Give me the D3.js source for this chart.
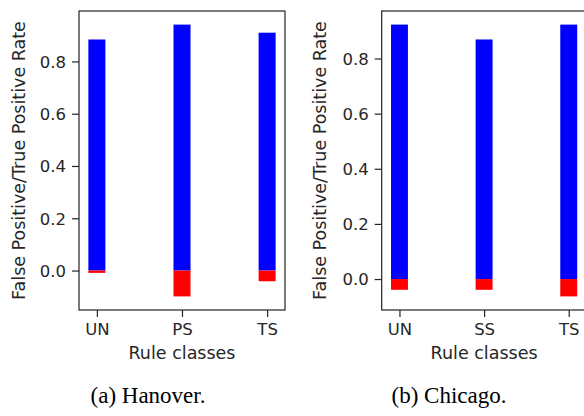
<!DOCTYPE html>
<html>
<head>
<meta charset="utf-8">
<script src="https://cdn.jsdelivr.net/npm/d3@7"></script>
<style>
  html, body { margin: 0; padding: 0; background: #fff; }
  svg { display: block; }
</style>
</head>
<body>
<svg id="chart" width="584" height="416"></svg>
<script>
// ---- Data ----
const hanoverCategories = ["UN", "PS", "TS"];
const hanoverTPR = [0.884, 0.941, 0.910];
const hanoverFPR = [-0.009, -0.099, -0.041];

const chicagoCategories = ["UN", "SS", "TS"];
const chicagoTPR = [0.923, 0.869, 0.923];
const chicagoFPR = [-0.039, -0.039, -0.063];

const yTicks = [0.0, 0.2, 0.4, 0.6, 0.8];
const yLabel = "False Positive/True Positive Rate";
const xLabel = "Rule classes";
const captions = ["(a) Hanover.", "(b) Chicago."];

// ---- Drawing ----
const svg = d3.select("#chart");
const textColor = "#262626";
const axisFont = "DejaVu Sans, sans-serif";

function panel(opts) {
  const { left, right, top, bottom, cats, tpr, fpr, ylabelX, caption, captionX } = opts;
  const barW = 0.2;
  const n = cats.length;
  // matplotlib-style 5% margins
  const xMin = -barW / 2, xMax = (n - 1) + barW / 2;
  const xm = (xMax - xMin) * 0.05;
  const x = d3.scaleLinear().domain([xMin - xm, xMax + xm]).range([left, right]);
  const yMinD = d3.min(fpr), yMaxD = d3.max(tpr);
  const ym = (yMaxD - yMinD) * 0.05;
  const y = d3.scaleLinear().domain([yMinD - ym, yMaxD + ym]).range([bottom, top]);

  const g = svg.append("g");
  const clipId = "clip" + Math.round(left);
  svg.append("clipPath").attr("id", clipId)
    .append("rect").attr("x", left).attr("y", top).attr("width", right - left).attr("height", bottom - top);

  const bars = g.append("g").attr("clip-path", `url(#${clipId})`);
  // positive (blue) bars
  bars.selectAll("rect.tp").data(tpr).join("rect")
    .attr("class", "tp")
    .attr("x", (d, i) => x(i - barW / 2))
    .attr("width", (d, i) => x(i + barW / 2) - x(i - barW / 2))
    .attr("y", d => y(d))
    .attr("height", d => y(0) - y(d))
    .attr("fill", "#0000ff");
  // negative (red) bars
  bars.selectAll("rect.fp").data(fpr).join("rect")
    .attr("class", "fp")
    .attr("x", (d, i) => x(i - barW / 2))
    .attr("width", (d, i) => x(i + barW / 2) - x(i - barW / 2))
    .attr("y", d => y(0))
    .attr("height", d => y(d) - y(0))
    .attr("fill", "#ff0000");

  // spines
  g.append("rect")
    .attr("x", left).attr("y", top)
    .attr("width", right - left).attr("height", bottom - top)
    .attr("fill", "none").attr("stroke", "#222").attr("stroke-width", 1.2);

  // y axis
  const yAxis = d3.axisLeft(y).tickValues(yTicks).tickFormat(d3.format(".1f"))
    .tickSize(7).tickPadding(6);
  const ya = g.append("g").attr("transform", `translate(${left},0)`).call(yAxis);
  ya.select(".domain").remove();
  ya.selectAll(".tick line").attr("stroke", "#222").attr("stroke-width", 1.2);
  ya.selectAll(".tick text").attr("fill", textColor)
    .style("font-family", axisFont).style("font-size", "16.5px").attr("dy", "0.36em");

  // x axis
  const xAxis = d3.axisBottom(x).tickValues(d3.range(n)).tickFormat(i => cats[i])
    .tickSize(7).tickPadding(6);
  const xa = g.append("g").attr("transform", `translate(0,${bottom})`).call(xAxis);
  xa.select(".domain").remove();
  xa.selectAll(".tick line").attr("stroke", "#222").attr("stroke-width", 1.2);
  xa.selectAll(".tick text").attr("fill", textColor)
    .style("font-family", axisFont).style("font-size", "16.5px").attr("dy", "0.71em");

  // axis labels
  g.append("text")
    .attr("x", (left + right) / 2).attr("y", bottom + 48.5)
    .attr("text-anchor", "middle").attr("fill", textColor)
    .style("font-family", axisFont).style("font-size", "17.5px")
    .text(xLabel);

  g.append("text")
    .attr("transform", `translate(${ylabelX},${(top + bottom) / 2}) rotate(-90)`)
    .attr("text-anchor", "middle").attr("fill", textColor)
    .style("font-family", axisFont).style("font-size", "17.5px")
    .text(yLabel);

  // caption
  svg.append("text")
    .attr("x", captionX).attr("y", 403)
    .attr("text-anchor", "middle").attr("fill", "#000")
    .style("font-family", "Liberation Serif, 'Times New Roman', serif").style("font-size", "23px")
    .text(caption);
}

panel({ left: 79, right: 285, top: 11, bottom: 310,
        cats: hanoverCategories, tpr: hanoverTPR, fpr: hanoverFPR,
        ylabelX: 24.5, caption: captions[0], captionX: 148 });
panel({ left: 381.7, right: 586.5, top: 11, bottom: 310,
        cats: chicagoCategories, tpr: chicagoTPR, fpr: chicagoFPR,
        ylabelX: 326, caption: captions[1], captionX: 449 });
</script>
</body>
</html>
